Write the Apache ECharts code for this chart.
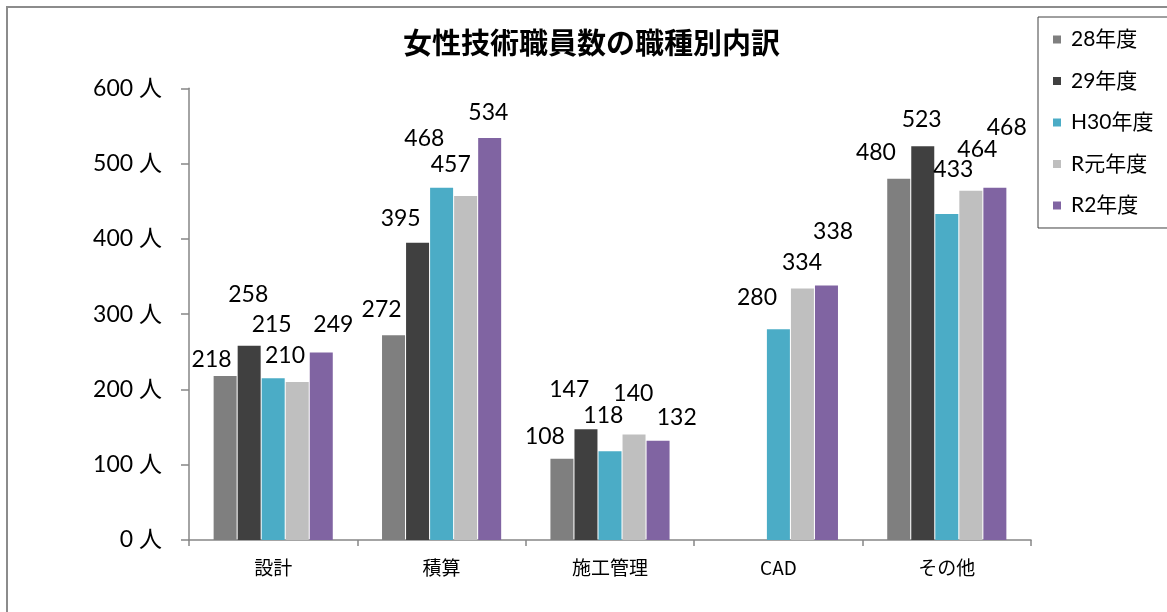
<!DOCTYPE html>
<html>
<head>
<meta charset="utf-8">
<script src="https://cdn.jsdelivr.net/npm/echarts@6/dist/echarts.min.js"></script>
<style>html,body{margin:0;padding:0;background:#fff;}#c{width:1167px;height:612px;}</style>
</head>
<body>
<div id="c"></div>
<script>
const categories = ['設計', '積算', '施工管理', 'CAD', 'その他'];
const seriesNames = ['28年度', '29年度', 'H30年度', 'R元年度', 'R2年度'];
const v28 = [218, 272, 108, null, 480];
const v29 = [258, 395, 147, null, 523];
const vH30 = [215, 468, 118, 280, 433];
const vR1 = [210, 457, 140, 334, 464];
const vR2 = [249, 534, 132, 338, 468];
const yTicks = [0, 100, 200, 300, 400, 500, 600];

// styling: colours and per-label nudges (Excel labels were manually moved)
const colors = ['#7f7f7f', '#404040', '#4bacc6', '#bfbfbf', '#8064a2'];
const labelNudge = [
  [[-13.5, -0.6], [-11.9, -9.2], [-17, -6], [0, 0], [-22.8, -10]],
  [[-0.9, -34.8], [-16.9, -8.3], [-16.7, -24], [0, 0], [-1.1, -10.3]],
  [[-1.5, -37.1], [-17.3, -33.4], [-6.7, -19.2], [-21.4, -15.2], [6.5, -28]],
  [[-12.2, -9.9], [-14.9, -15], [-0.7, -24.6], [-0.4, -9.6], [6.5, -25.4]],
  [[12.1, -11.6], [-1.3, -9.7], [18.7, -6.9], [6.6, -37.6], [11.9, -44.4]]
];

const allValues = [v28, v29, vH30, vR1, vR2];
const numFont = "Lato, 'Noto Sans CJK JP', sans-serif";
const jpFont = "'Noto Sans CJK JP', sans-serif";

const series = allValues.map((vals, si) => ({
  name: seriesNames[si],
  type: 'bar',
  barWidth: 23,
  barGap: '4.5%',
  itemStyle: { color: colors[si] },
  data: vals.map((v, ci) => ({
    value: v,
    label: { offset: labelNudge[si][ci] }
  })),
  label: {
    show: true,
    position: 'top',
    distance: 5,
    color: '#000',
    fontSize: 23,
    lineHeight: 22,
    fontFamily: numFont
  }
}));

const chart = echarts.init(document.getElementById('c'), null, { renderer: 'canvas' });
chart.setOption({
  animation: false,
  backgroundColor: '#fff',
  color: colors,
  graphic: [{
    type: 'rect', silent: true, z: -10,
    shape: { x: 7, y: 7, width: 1300, height: 800 },
    style: { fill: 'none', stroke: '#8c8c8c', lineWidth: 2 }
  }],
  title: {
    text: '女性技術職員数の職種別内訳',
    left: 403,
    top: 28,
    padding: 0,
    textStyle: { fontFamily: jpFont, fontSize: 29, fontWeight: 'bold', color: '#000' }
  },
  legend: {
    orient: 'vertical',
    left: 1038,
    top: 17,
    padding: [12, 60, 12, 15],
    itemGap: 20.5,
    itemWidth: 8,
    itemHeight: 8,
    icon: 'rect',
    borderColor: '#404040',
    borderWidth: 1,
    backgroundColor: '#fff',
    data: seriesNames,
    textStyle: { fontFamily: numFont, fontSize: 21, lineHeight: 20, color: '#000', padding: [0, 0, 0, 5] }
  },
  grid: { left: 189, right: 136, top: 88.3, bottom: 72, containLabel: false },
  xAxis: {
    type: 'category',
    data: categories,
    axisLine: { lineStyle: { color: '#868686', width: 1.5 } },
    axisTick: { show: true, length: 6, lineStyle: { color: '#868686', width: 1.5 } },
    axisLabel: { margin: 18, color: '#000', fontSize: 19, fontFamily: jpFont }
  },
  yAxis: {
    type: 'value',
    min: yTicks[0],
    max: yTicks[yTicks.length - 1],
    interval: yTicks[1] - yTicks[0],
    splitLine: { show: false },
    axisLine: { show: true, lineStyle: { color: '#868686', width: 1.5 } },
    axisTick: { show: true, length: 8, lineStyle: { color: '#868686', width: 1.5 } },
    axisLabel: { margin: 27, color: '#000', fontSize: 23, fontFamily: numFont, formatter: '{value} 人' }
  },
  series: series
});
</script>
</body>
</html>
